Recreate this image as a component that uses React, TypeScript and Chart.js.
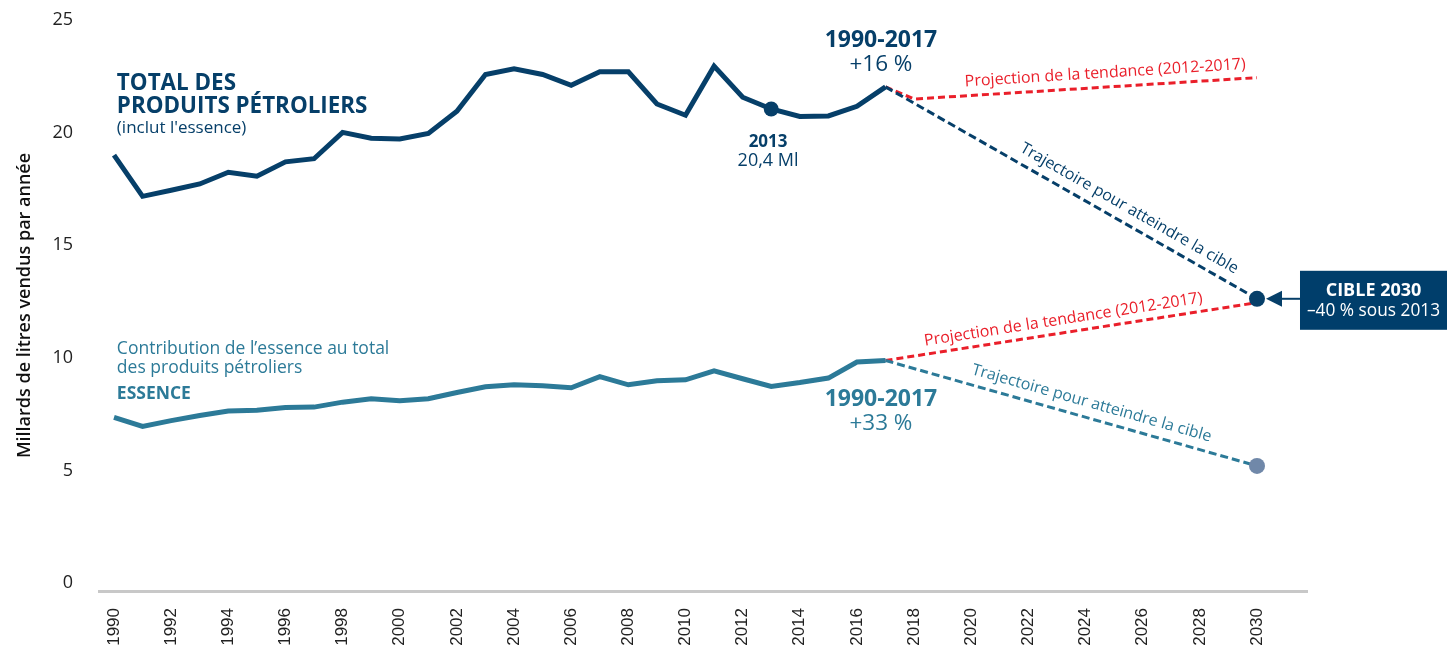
import React, { useEffect, useRef } from "react";
import { Chart, registerables } from "chart.js";

Chart.register(...registerables);

// ---------- DATA ----------
const years = [
  1990, 1991, 1992, 1993, 1994, 1995, 1996, 1997, 1998, 1999,
  2000, 2001, 2002, 2003, 2004, 2005, 2006, 2007, 2008, 2009,
  2010, 2011, 2012, 2013, 2014, 2015, 2016, 2017,
];
const totalValues = [
  19.0, 17.17, 17.44, 17.72, 18.24, 18.06, 18.7, 18.84, 20.01, 19.75,
  19.72, 19.96, 20.95, 22.58, 22.83, 22.58, 22.1, 22.7, 22.7, 21.27,
  20.77, 22.95, 21.57, 21.05, 20.72, 20.74, 21.17, 22.03,
];
const essenceValues = [
  7.35, 6.95, 7.21, 7.44, 7.64, 7.67, 7.79, 7.81, 8.03, 8.18,
  8.09, 8.18, 8.46, 8.71, 8.8, 8.76, 8.67, 9.16, 8.8, 8.98,
  9.02, 9.42, 9.07, 8.73, 8.9, 9.1, 9.81, 9.88,
];
const totalTrendYears = [2017, 2018, 2030];
const totalTrendValues = [22.03, 21.49, 22.44];
const targetYears = [2017, 2030];
const totalTargetValues = [22.03, 12.62];
const essenceTrendValues = [9.88, 12.45];
const essenceTargetValues = [9.88, 5.2];
const markerYear = 2013;
const markerValue = 21.05;
const yTickValues = [0, 5, 10, 15, 20, 25];
const xTickValues = [
  1990, 1992, 1994, 1996, 1998, 2000, 2002, 2004, 2006, 2008, 2010,
  2012, 2014, 2016, 2018, 2020, 2022, 2024, 2026, 2028, 2030,
];

// ---------- STYLE ----------
const NAVY = "#063f69";
const TEAL = "#2c7a98";
const RED = "#ea1f2a";
const SLATE = "#7088a9";
const BOX = "#003e6b";
const FONT = "'Open Sans', 'Noto Sans', sans-serif";

const pts = (xs: number[], ys: number[]) => xs.map((x, i) => ({ x, y: ys[i] }));

function textAlong(
  ctx: CanvasRenderingContext2D,
  text: string,
  x1: number, y1: number, x2: number, y2: number,
  t: number, off: number, font: string, color: string
) {
  const ang = Math.atan2(y2 - y1, x2 - x1);
  const px = x1 + (x2 - x1) * t + Math.sin(ang) * off;
  const py = y1 + (y2 - y1) * t - Math.cos(ang) * off;
  ctx.save();
  ctx.translate(px, py);
  ctx.rotate(ang);
  ctx.font = font;
  ctx.fillStyle = color;
  ctx.textAlign = "center";
  ctx.textBaseline = "middle";
  ctx.fillText(text, 0, 0);
  ctx.restore();
}

const annotations = {
  id: "annotations",
  afterDatasetsDraw(chart: any) {
    const ctx: CanvasRenderingContext2D = chart.ctx;
    const xs = (v: number) => chart.scales.x.getPixelForValue(v);
    const ys = (v: number) => chart.scales.y.getPixelForValue(v);

    const txt = (s: string, x: number, y: number, font: string, color: string, align: CanvasTextAlign) => {
      ctx.save();
      ctx.font = font;
      ctx.fillStyle = color;
      ctx.textAlign = align;
      ctx.textBaseline = "alphabetic";
      ctx.fillText(s, x, y);
      ctx.restore();
    };

    // Series titles
    txt("TOTAL DES", xs(1990.1), ys(21.87), `bold 22.4px ${FONT}`, NAVY, "left");
    txt("PRODUITS PÉTROLIERS", xs(1990.1), ys(20.88), `bold 22.4px ${FONT}`, NAVY, "left");
    txt("(inclut l'essence)", xs(1990.1), ys(20.0), `17px ${FONT}`, NAVY, "left");

    txt("Contribution de l’essence au total", xs(1990.1), ys(10.16), `17.5px ${FONT}`, TEAL, "left");
    txt("des produits pétroliers", xs(1990.1), ys(9.32), `17.5px ${FONT}`, TEAL, "left");
    txt("ESSENCE", xs(1990.1), ys(8.16), `bold 17.5px ${FONT}`, TEAL, "left");

    // Growth labels
    txt("1990-2017", xs(2016.84), ys(23.78), `bold 23px ${FONT}`, NAVY, "center");
    txt("+16 %", xs(2016.84), ys(22.72), `22.5px ${FONT}`, NAVY, "center");
    txt("1990-2017", xs(2016.84), ys(7.84), `bold 23px ${FONT}`, TEAL, "center");
    txt("+33 %", xs(2016.84), ys(6.8), `22.5px ${FONT}`, TEAL, "center");

    // 2013 marker label
    txt("2013", xs(2012.89), ys(19.35), `bold 17px ${FONT}`, NAVY, "center");
    txt("20,4 Ml", xs(2012.89), ys(18.5), `18px ${FONT}`, NAVY, "center");

    // Labels along projection lines
    const f16 = `16px ${FONT}`;
    textAlong(ctx, "Projection de la tendance (2012-2017)",
      xs(totalTrendYears[1]), ys(totalTrendValues[1]), xs(totalTrendYears[2]), ys(totalTrendValues[2]),
      0.56, 14, f16, RED);
    textAlong(ctx, "Trajectoire pour atteindre la cible",
      xs(targetYears[0]), ys(totalTargetValues[0]), xs(targetYears[1]), ys(totalTargetValues[1]),
      0.636, 15, f16, NAVY);
    textAlong(ctx, "Projection de la tendance (2012-2017)",
      xs(targetYears[0]), ys(essenceTrendValues[0]), xs(targetYears[1]), ys(essenceTrendValues[1]),
      0.484, 13, f16, RED);
    textAlong(ctx, "Trajectoire pour atteindre la cible",
      xs(targetYears[0]), ys(essenceTargetValues[0]), xs(targetYears[1]), ys(essenceTargetValues[1]),
      0.544, 15, f16, TEAL);

    // CIBLE 2030 box with arrow
    const tx = xs(targetYears[1]);
    const ty = ys(totalTargetValues[1]);
    const boxL = tx + 43;
    const boxT = ty - 28;
    ctx.save();
    ctx.fillStyle = BOX;
    ctx.fillRect(boxL, boxT, 147, 59);
    ctx.fillStyle = NAVY;
    ctx.beginPath();
    ctx.moveTo(tx + 9, ty);
    ctx.lineTo(tx + 25, ty - 8);
    ctx.lineTo(tx + 25, ty + 8);
    ctx.closePath();
    ctx.fill();
    ctx.strokeStyle = NAVY;
    ctx.lineWidth = 2;
    ctx.beginPath();
    ctx.moveTo(tx + 24, ty);
    ctx.lineTo(boxL, ty);
    ctx.stroke();
    ctx.restore();
    txt("CIBLE 2030", boxL + 73.5, boxT + 25, `bold 18px ${FONT}`, "#ffffff", "center");
    txt("–40 % sous 2013", boxL + 73.5, boxT + 45, `17.3px ${FONT}`, "#ffffff", "center");
  },
};

export default function App() {
  const ref = useRef<HTMLCanvasElement | null>(null);

  useEffect(() => {
    if (!ref.current) return;
    const chart = new Chart(ref.current, {
      type: "line",
      data: {
        datasets: [
          {
            label: "marker2013",
            data: [{ x: markerYear, y: markerValue }],
            showLine: false,
            pointRadius: 7.5,
            pointBackgroundColor: NAVY,
            pointBorderWidth: 0,
            order: 0,
          },
          {
            label: "Total",
            data: pts(years, totalValues),
            borderColor: NAVY,
            borderWidth: 5,
            pointRadius: 0,
            tension: 0,
            order: 1,
          },
          {
            label: "Essence",
            data: pts(years, essenceValues),
            borderColor: TEAL,
            borderWidth: 5,
            pointRadius: 0,
            tension: 0,
            order: 1,
          },
          {
            label: "Total trend",
            data: pts(totalTrendYears, totalTrendValues),
            borderColor: RED,
            borderWidth: 3,
            borderDash: [7, 4],
            pointRadius: 0,
            tension: 0,
            order: 3,
          },
          {
            label: "Total target",
            data: pts(targetYears, totalTargetValues),
            borderColor: NAVY,
            borderWidth: 3,
            borderDash: [8, 4],
            pointRadius: [0, 8],
            pointBackgroundColor: NAVY,
            pointBorderWidth: 0,
            tension: 0,
            order: 2,
          },
          {
            label: "Essence trend",
            data: pts(targetYears, essenceTrendValues),
            borderColor: RED,
            borderWidth: 3,
            borderDash: [7, 4],
            pointRadius: 0,
            tension: 0,
            order: 3,
          },
          {
            label: "Essence target",
            data: pts(targetYears, essenceTargetValues),
            borderColor: TEAL,
            borderWidth: 3,
            borderDash: [8, 4],
            pointRadius: [0, 8],
            pointBackgroundColor: SLATE,
            pointBorderWidth: 0,
            tension: 0,
            order: 2,
          },
        ],
      },
      options: {
        responsive: false,
        animation: false,
        events: [],
        clip: false as any,
        layout: { padding: { top: 20, right: 140, left: 0, bottom: 0 } },
        plugins: { legend: { display: false }, tooltip: { enabled: false } },
        scales: {
          x: {
            type: "linear",
            min: 1989.475,
            max: 2031.75,
            grid: { display: false, drawTicks: false },
            border: { display: true, color: "#c8c8c8", width: 3 },
            afterBuildTicks: (scale: any) => {
              scale.ticks = xTickValues.map((v) => ({ value: v }));
            },
            afterFit: (scale: any) => {
              scale.height = 58;
              scale.paddingLeft = 0;
              scale.paddingRight = 0;
            },
            ticks: {
              autoSkip: false,
              minRotation: 90,
              maxRotation: 90,
              padding: 17,
              color: "#222",
              font: { family: "'Liberation Sans', Arial, sans-serif", size: 17 },
              callback: (v: any) => String(v),
            },
          },
          y: {
            type: "linear",
            min: -0.356,
            max: 25,
            grid: { display: false, drawTicks: false },
            border: { display: false },
            afterBuildTicks: (scale: any) => {
              scale.ticks = yTickValues.map((v) => ({ value: v }));
            },
            afterFit: (scale: any) => {
              scale.width = 99;
              scale.paddingTop = 0;
              scale.paddingBottom = 0;
            },
            ticks: {
              padding: 26,
              color: "#222",
              font: { family: "'Open Sans', sans-serif", size: 18 },
              callback: (v: any) => String(v),
            },
            title: {
              display: true,
              text: "Millards de litres vendus par année",
              color: "#111",
              font: { family: "'Open Sans', sans-serif", size: 18, weight: 600 as any },
              padding: { top: 14, bottom: 0 },
            },
          },
        },
      },
      plugins: [annotations],
    });
    return () => chart.destroy();
  }, []);

  return (
    <div style={{ position: "fixed", left: 0, top: 0, width: 1447, height: 649, background: "#fff" }}>
      <canvas ref={ref} width={1447} height={649} style={{ width: 1447, height: 649, display: "block" }} />
    </div>
  );
}
